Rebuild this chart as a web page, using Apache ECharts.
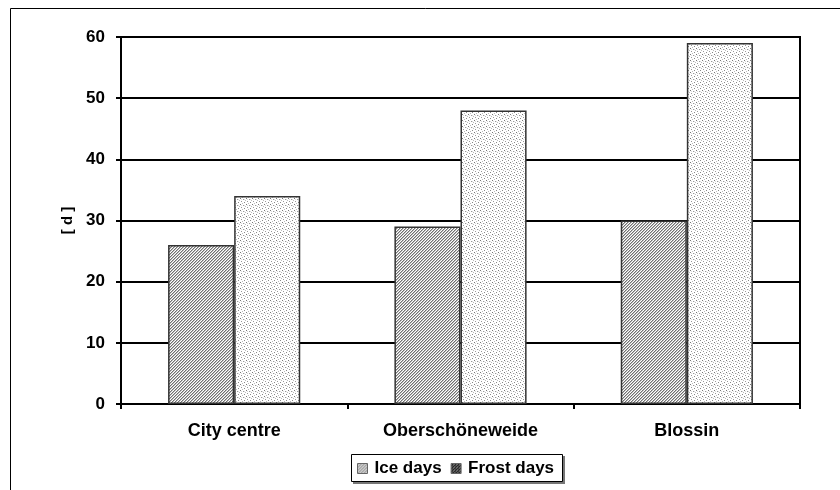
<!DOCTYPE html>
<html>
<head>
<meta charset="utf-8">
<script src="https://cdn.jsdelivr.net/npm/echarts@6/dist/echarts.min.js"></script>
<style>html,body{margin:0;padding:0;background:#fff;}#c{width:840px;height:490px;}</style>
</head>
<body>
<div id="c"></div>
<script>
const categories = ['City centre', 'Oberschöneweide', 'Blossin'];
const iceDays = [26, 29, 30];
const frostDays = [34, 48, 59];
const yTicks = { min: 0, max: 60, interval: 10 };

function hatchPattern() {
  const c = document.createElement('canvas');
  c.width = 3; c.height = 3;
  const g = c.getContext('2d');
  g.fillStyle = '#ffffff'; g.fillRect(0, 0, 3, 3);
  for (let x = 0; x < 3; x++) for (let y = 0; y < 3; y++) {
    if ((x + y) % 3 === 0) { g.fillStyle = '#707070'; g.fillRect(x, y, 1, 1); }
    else if ((x + y) % 3 === 1) { g.fillStyle = '#bdbdbd'; g.fillRect(x, y, 1, 1); }
  }
  return c;
}
function dotPattern() {
  const c = document.createElement('canvas');
  c.width = 6; c.height = 6;
  const g = c.getContext('2d');
  g.fillStyle = '#ffffff'; g.fillRect(0, 0, 6, 6);
  const pts = [[0,0,'#777'],[3,1,'#999'],[1,3,'#999'],[4,4,'#888'],[2,5,'#bbb'],[5,2,'#bbb'],[1,1,'#ddd'],[4,1,'#ddd']];
  pts.forEach(p => { g.fillStyle = p[2]; g.fillRect(p[0], p[1], 1, 1); });
  return c;
}
function darkDotPattern() {
  const c = document.createElement('canvas');
  c.width = 3; c.height = 3;
  const g = c.getContext('2d');
  g.fillStyle = '#222'; g.fillRect(0, 0, 3, 3);
  g.fillStyle = '#aaa'; g.fillRect(0, 0, 1, 1); g.fillRect(2, 1, 1, 1);
  g.fillStyle = '#666'; g.fillRect(1, 2, 1, 1);
  return c;
}

const chart = echarts.init(document.getElementById('c'), null, { renderer: 'canvas' });
const font = 'Arial, "Liberation Sans", sans-serif';
chart.setOption({
  animation: false,
  backgroundColor: '#fff',
  graphic: [
    { type: 'rect', z: 0, shape: { x: 10.5, y: 8.5, width: 900, height: 600 }, style: { fill: 'none', stroke: '#000', lineWidth: 1 } },
    { type: 'rect', z: 0, shape: { x: 353, y: 456, width: 212, height: 28 }, style: { fill: '#777', stroke: null } },
    { type: 'rect', z: 1, shape: { x: 351.5, y: 454.5, width: 211, height: 27 }, style: { fill: '#fff', stroke: '#000', lineWidth: 1 } }
  ],
  legend: {
    data: [
      { name: 'Ice days', itemStyle: { color: { image: hatchPattern(), repeat: 'repeat' }, borderColor: '#666', borderWidth: 1 } },
      { name: 'Frost days', itemStyle: { color: { image: darkDotPattern(), repeat: 'repeat' }, borderColor: '#666', borderWidth: 1 } }
    ],
    left: 357, top: 460,
    itemWidth: 10, itemHeight: 10, itemGap: 9,
    padding: 0,
    z: 5,
    textStyle: { fontFamily: font, fontWeight: 'bold', fontSize: 17, color: '#000', padding: [0, 0, 0, 2] },
    icon: 'rect'
  },
  grid: { left: 121, right: 40, top: 37, bottom: 86, show: true, borderColor: '#000', borderWidth: 2, containLabel: false },
  xAxis: {
    type: 'category',
    data: categories,
    axisLine: { lineStyle: { color: '#000', width: 2 } },
    axisTick: { show: true, length: 5, inside: false, alignWithLabel: false, lineStyle: { color: '#000', width: 2 } },
    axisLabel: { margin: 18, color: '#000', fontFamily: font, fontWeight: 'bold', fontSize: 18 }
  },
  yAxis: {
    type: 'value',
    min: yTicks.min, max: yTicks.max, interval: yTicks.interval,
    name: '[ d ]',
    nameLocation: 'middle',
    nameGap: 46,
    nameRotate: 90,
    nameTextStyle: { fontFamily: font, fontWeight: 'bold', fontSize: 15, color: '#000' },
    axisLine: { show: true, lineStyle: { color: '#000', width: 2 } },
    axisTick: { show: true, length: 5, lineStyle: { color: '#000', width: 2 } },
    axisLabel: { margin: 16, color: '#000', fontFamily: font, fontWeight: 'bold', fontSize: 17 },
    splitLine: { show: true, lineStyle: { color: '#000', width: 2 } }
  },
  series: [
    {
      name: 'Ice days', type: 'bar', data: iceDays,
      barGap: '0%', barCategoryGap: '41.6%',
      itemStyle: { color: { image: hatchPattern(), repeat: 'repeat' }, borderColor: '#333', borderWidth: 1.5 }
    },
    {
      name: 'Frost days', type: 'bar', data: frostDays,
      barGap: '0%', barCategoryGap: '41.6%',
      itemStyle: { color: { image: dotPattern(), repeat: 'repeat' }, borderColor: '#333', borderWidth: 1.5 }
    }
  ]
});
</script>
</body>
</html>
